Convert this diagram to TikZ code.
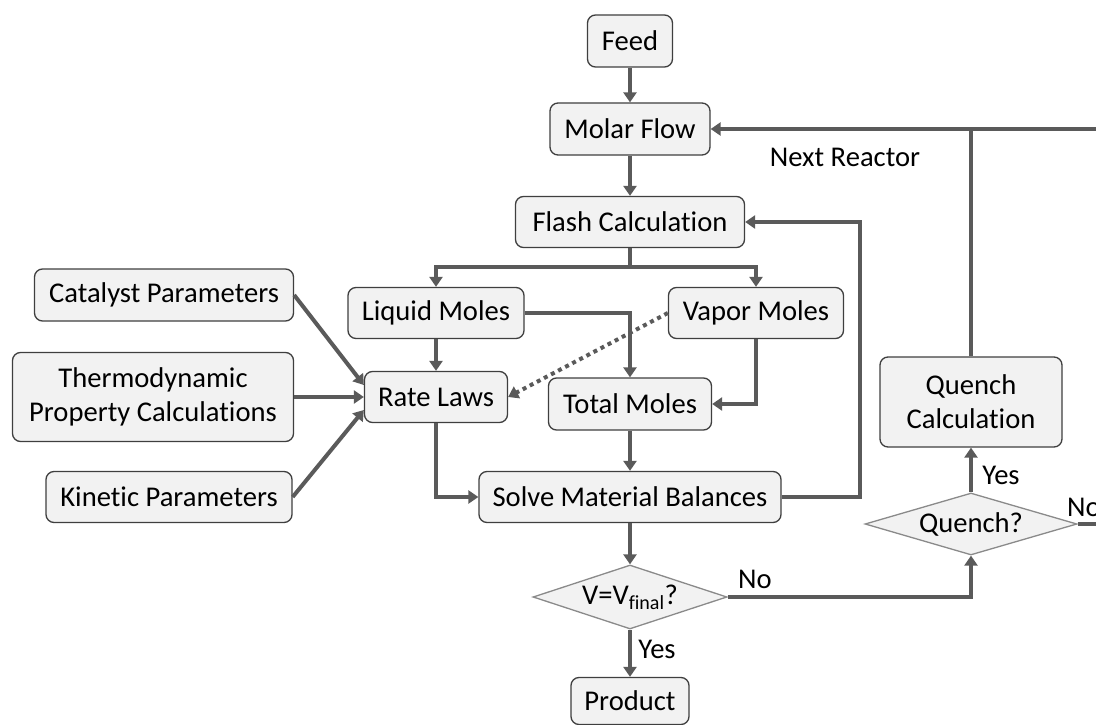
\documentclass[tikz,border=0pt]{standalone}
\usepackage{fontspec}
\setmainfont{Carlito}[Ligatures=NoCommon]
\usetikzlibrary{arrows.meta,shapes.geometric,calc}
\definecolor{linegray}{HTML}{5A5A5A}
\definecolor{boxfill}{HTML}{F2F2F2}
\definecolor{boxedge}{HTML}{3F3F3F}
\definecolor{diaedge}{HTML}{8A8A8A}

\begin{document}
\begin{tikzpicture}[x=1pt,y=-1pt,
  txt/.style={font=\fontsize{28.6}{34}\selectfont},
  box/.style={txt, draw=boxedge, fill=boxfill, line width=1.3pt,
    rounded corners=8pt, inner sep=0pt, align=center},
  dia/.style={txt, diamond, draw=diaedge, fill=boxfill, line width=1.3pt,
    inner sep=0pt, aspect=3},
  flow/.style={draw=linegray, line width=4pt,
    -{Triangle[length=10pt,width=13pt]}},
  plain/.style={draw=linegray, line width=4pt},
  dotflow/.style={flow, dash pattern=on 4pt off 4pt},
  lbl/.style={txt, inner sep=0pt}]

\useasboundingbox (0,0) rectangle (1096,725);
\clip (0,0) rectangle (1096,725);

% main column
\node[box, minimum width=85pt,  minimum height=52pt] (feed)    at (630,41)  {Feed};
\node[box, minimum width=160pt, minimum height=52pt] (molar)   at (630,129) {Molar Flow};
\node[box, minimum width=229pt, minimum height=51pt] (flash)   at (630,222) {Flash Calculation};
\node[box, minimum width=176pt, minimum height=51pt] (liquid)  at (436,313) {Liquid Moles};
\node[box, minimum width=175pt, minimum height=51pt] (vapor)   at (756,313) {Vapor Moles};
\node[box, minimum width=143pt, minimum height=51pt] (rate)    at (436,397) {Rate Laws};
\node[box, minimum width=163pt, minimum height=52pt] (total)   at (630,404) {Total Moles};
\node[box, minimum width=302pt, minimum height=51pt] (solve)   at (630,497) {Solve Material Balances};
\node[dia, minimum width=194pt, minimum height=64pt] (vcheck)  at (630,597) {V=V\textsubscript{final}?};
\node[box, minimum width=118pt, minimum height=47pt] (product) at (630,701) {Product};

% inputs to the rate laws
\node[box, minimum width=259pt, minimum height=52pt] (catalyst) at (164,295) {Catalyst Parameters};
\node[box, minimum width=281pt, minimum height=89pt] (thermo)   at (153,397) {Thermodynamic\\Property Calculations};
\node[box, minimum width=246pt, minimum height=51pt] (kinetic)  at (169,497) {Kinetic Parameters};

% quench branch
\node[box, minimum width=182pt, minimum height=90pt] (qcalc)  at (971,402) {Quench\\Calculation};
\node[dia, minimum width=212pt, minimum height=62pt] (qcheck) at (971,524) {Quench?};

% routing points
\coordinate (split)  at (630,267);
\coordinate (back)   at (860,222);
\coordinate (join)   at (971,129);
\coordinate (redge)  at (1100,129);
\coordinate (nedge)  at (1100,524);

% connectors
\draw[flow] (feed) -- (molar);
\draw[flow] (molar) -- (flash);
\draw[plain] (flash.south) -- (split);
\draw[flow] (split) -| (liquid.north);
\draw[flow] (split) -| (vapor.north);
\draw[flow] (liquid.east) -| (total.north);
\draw[flow] (vapor.south) |- (total.east);
\draw[flow] (liquid) -- (rate);
\draw[dotflow] (vapor.west) -- (rate.east);
\draw[flow] (catalyst.east) -- ($(rate.west)+(0,-12)$);
\draw[flow] (thermo.east) -- (rate.west);
\draw[flow] (kinetic.east) -- ($(rate.west)+(0,13)$);
\draw[flow] (rate.south) |- (solve.west);
\draw[flow] (total) -- (solve);
\draw[flow] (solve.east) -| (back) -- (flash.east);
\draw[flow] (solve) -- (vcheck);
\draw[flow] (vcheck) -- (product);
\draw[flow] (vcheck.east) -| (qcheck.south);
\draw[flow] (qcheck) -- (qcalc);
\draw[plain] (qcalc.north) -- (join);
\draw[flow] (redge) -- (molar.east);
\draw[plain] (qcheck.east) -- (nedge);

% labels
\node[lbl] (lnext) at (845,157) {Next Reactor};
\node[lbl] (lvno)  at (755,579) {No};
\node[lbl] (lvyes) at (657,649) {Yes};
\node[lbl] (lqyes) at (1001,475) {Yes};
\node[lbl, anchor=west] (lqno) at (1067,507) {No};
\end{tikzpicture}
\end{document}
